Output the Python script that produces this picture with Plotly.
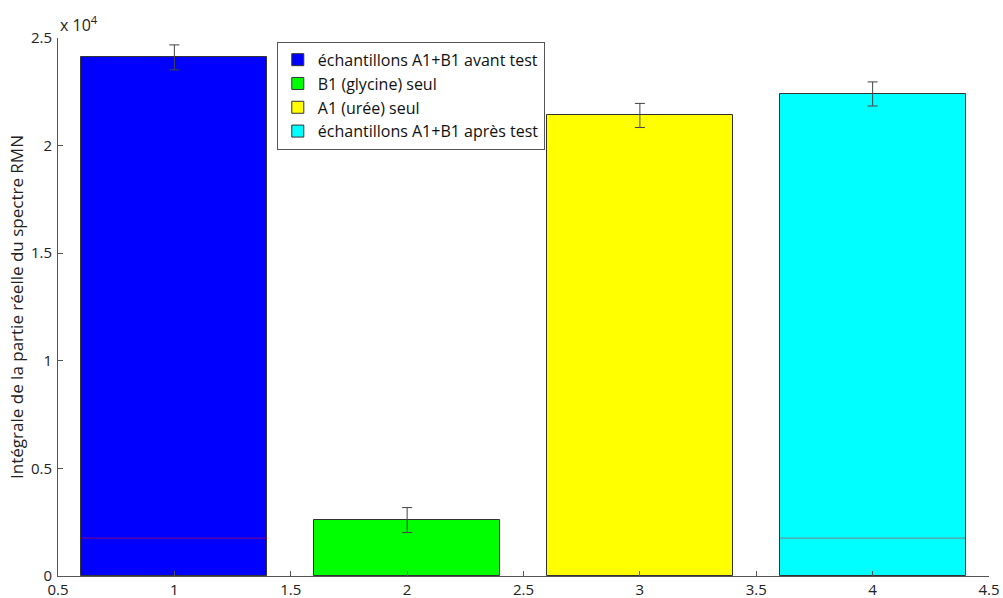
import plotly.graph_objects as go

categories = ["échantillons A1+B1 avant test", "B1 (glycine) seul", "A1 (urée) seul", "échantillons A1+B1 après test"]
x_pos = [1, 2, 3, 4]
values = [24100, 2600, 21400, 22400]
errors = [580, 580, 560, 560]
colors = ["#0000ff", "#00ff00", "#ffff00", "#00ffff"]
ref_level = 1760
ref_bars = [1, 4]
y_ticks = [0, 5000, 10000, 15000, 20000, 25000]
y_tick_text = ["0", "0.5", "1", "1.5", "2", "2.5"]
x_ticks = [0.5, 1, 1.5, 2, 2.5, 3, 3.5, 4, 4.5]
x_tick_text = ["0.5", "1", "1.5", "2", "2.5", "3", "3.5", "4", "4.5"]
bar_width = 0.8

fig = go.Figure()
for name, x, v, e, c in zip(categories, x_pos, values, errors, colors):
    fig.add_trace(go.Bar(
        x=[x], y=[v], name=name, width=bar_width,
        marker=dict(color=c, line=dict(color="#333333", width=1)),
        error_y=dict(type="data", array=[e], color="#444444", thickness=1, width=5),
    ))

for b in ref_bars:
    fig.add_trace(go.Scatter(
        x=[b - bar_width / 2, b + bar_width / 2], y=[ref_level, ref_level],
        mode="lines", line=dict(color="rgba(255,0,0,0.5)", width=1),
        showlegend=False, hoverinfo="skip",
    ))

fig.update_layout(
    width=1003, height=598,
    margin=dict(l=58, r=14, t=38, b=22),
    plot_bgcolor="white", paper_bgcolor="white",
    font=dict(family="Open Sans, Noto Sans, sans-serif", size=14, color="#222222"),
    showlegend=True,
    bargap=0,
    legend=dict(
        x=0.235, y=0.993, xanchor="left", yanchor="top",
        bgcolor="white", bordercolor="#555555", borderwidth=1,
        font=dict(size=16, color="#111111"),
        itemwidth=30, tracegroupgap=0,
    ),
    xaxis=dict(
        range=[0.5, 4.5], tickvals=x_ticks, ticktext=x_tick_text,
        showline=True, linecolor="#555555", linewidth=1,
        ticks="inside", ticklen=5, tickcolor="#555555",
        showgrid=False, zeroline=False, tickfont=dict(size=15),
        automargin=False, ticklabelstandoff=0,
    ),
    yaxis=dict(
        range=[0, 25000], tickvals=y_ticks, ticktext=y_tick_text,
        showline=True, linecolor="#555555", linewidth=1,
        ticks="inside", ticklen=5, tickcolor="#555555",
        showgrid=False, zeroline=False, tickfont=dict(size=15),
        automargin=False, ticklabelstandoff=2,
        title=dict(text="Intégrale de la partie réelle du spectre RMN", font=dict(size=17), standoff=2),
    ),
    annotations=[dict(
        text="x 10<sup>4</sup>", xref="paper", yref="paper", x=0.0, y=1.0,
        xanchor="left", yanchor="bottom", showarrow=False, font=dict(size=16),
    )],
)

fig.write_html(
    "out.html",
    config={"displayModeBar": False},
    post_script="document.body.style.margin='0';document.body.style.overflow='hidden';",
)
